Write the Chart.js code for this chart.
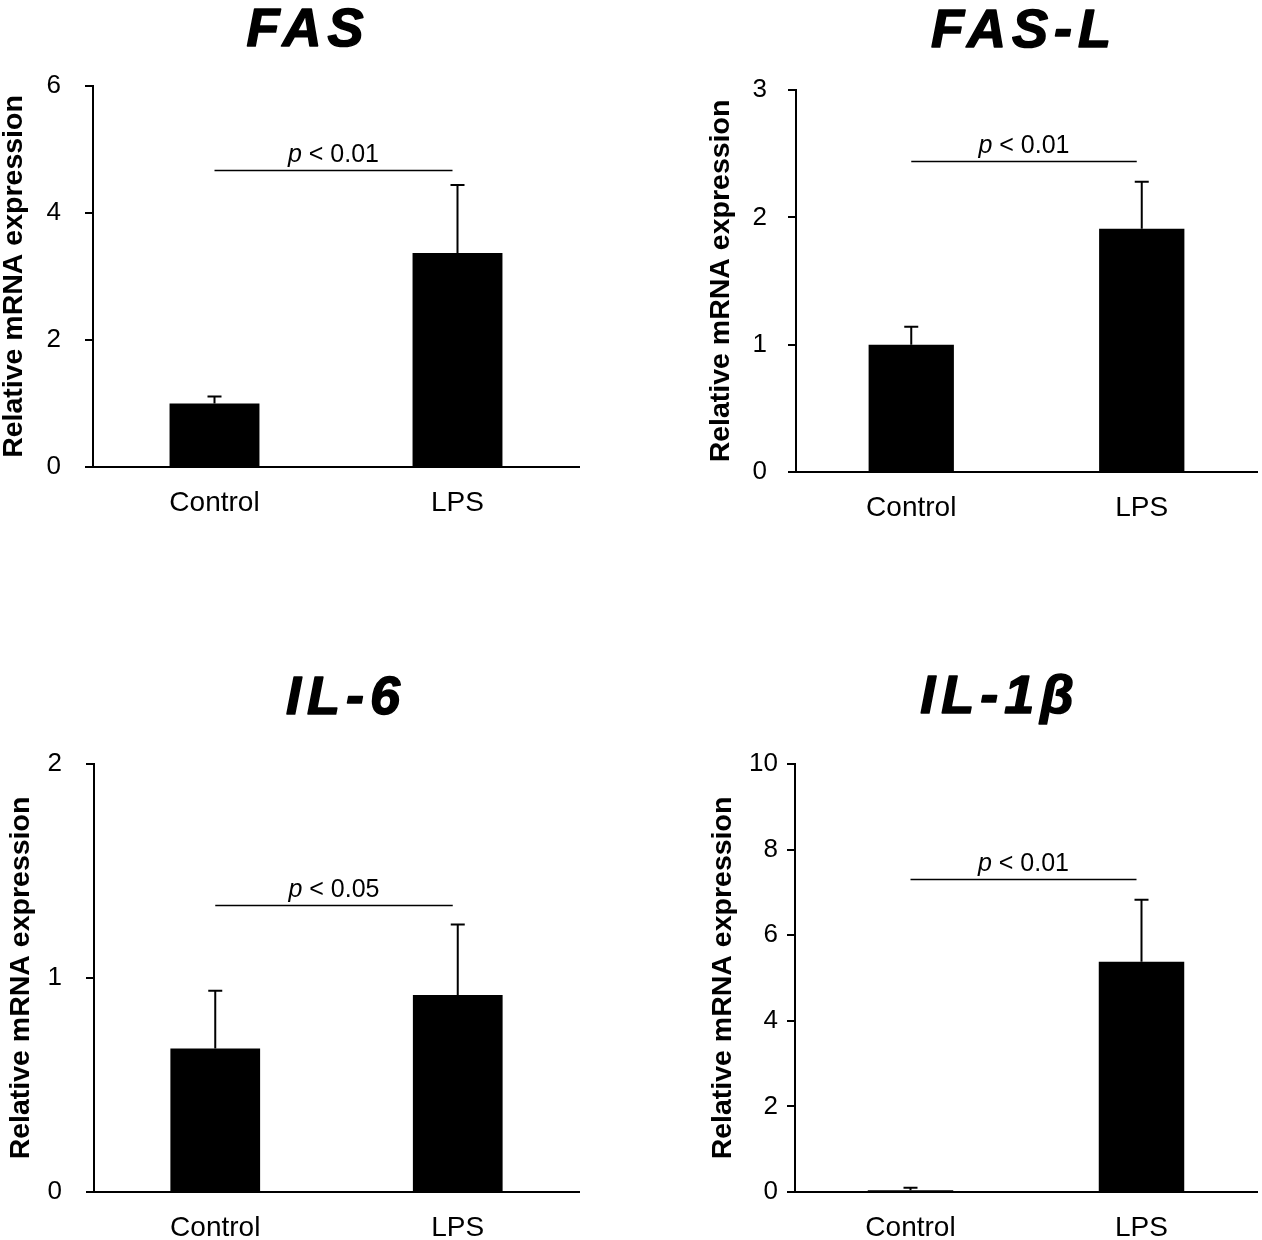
<!DOCTYPE html>
<html>
<head>
<meta charset="utf-8">
<title>Relative mRNA expression</title>
<script src="https://cdn.jsdelivr.net/npm/chart.js@4.4.0/dist/chart.umd.min.js"></script>
<style>
    body { margin: 0; background: #fff; }
    #wrap { position: relative; width: 1262px; height: 1240px; }
    #wrap canvas { position: absolute; }
</style>
</head>
<body>
<div id="wrap">
    <canvas id="fas-chart"></canvas>
    <canvas id="fasl-chart"></canvas>
    <canvas id="il6-chart"></canvas>
    <canvas id="il1b-chart"></canvas>
</div>
<script>
// values
const categories = ['Control', 'LPS'];

const fasMean = [1.0, 3.37];
const fasSd = [0.11, 1.07];
const faslMean = [1.0, 1.91];
const faslSd = [0.14, 0.37];
const il6Mean = [0.67, 0.92];
const il6Sd = [0.27, 0.33];
const il1bMean = [0.04, 5.38];
const il1bSd = [0.06, 1.45];

const geneNames = ['FAS', 'FAS-L', 'IL-6', 'IL-1β'];
const yMax = [6, 3, 2, 10];
const yStep = [2, 1, 1, 2];
const sigLevel = [4.68, 2.44, 1.34, 7.31];
const sigText = ['< 0.01', '< 0.01', '< 0.05', '< 0.01'];

const FONT = '"Liberation Sans", Arial, sans-serif';
Chart.defaults.font.family = FONT;
Chart.defaults.color = '#000';

// layout of the four panels (canvas coords), not data
const CW = 631, CH = 620;
const panels = [
    { id: 'fas-chart',  left: 0,   top: 0,   area: [93, 86, 579, 467],   padLeft: 0,  tickPad: 24, titleX: 305, titleY: 46 },
    { id: 'fasl-chart', left: 631, top: 0,   area: [165, 90, 626, 472],  padLeft: 76, tickPad: 21, titleX: 390, titleY: 47 },
    { id: 'il6-chart',  left: 0,   top: 620, area: [94, 144, 579, 572],  padLeft: 7,  tickPad: 24, titleX: 343, titleY: 94 },
    { id: 'il1b-chart', left: 631, top: 620, area: [164, 144, 626, 572], padLeft: 78, tickPad: 9,  titleX: 366, titleY: 93 }
];

const means = [fasMean, faslMean, il6Mean, il1bMean];
const sds = [fasSd, faslSd, il6Sd, il1bSd];

const errorBarPlugin = {
    id: 'errorBars',
    afterDatasetsDraw(chart, args, opts) {
        const ctx = chart.ctx;
        const meta = chart.getDatasetMeta(0);
        const y = chart.scales.y;
        const values = chart.data.datasets[0].data;

        ctx.save();
        ctx.strokeStyle = '#000';
        ctx.lineWidth = 2;
        meta.data.forEach((bar, i) => {
            const yBase = y.getPixelForValue(values[i]);
            const yTop = y.getPixelForValue(values[i] + opts.sd[i]);
            ctx.beginPath();
            ctx.moveTo(bar.x, yBase);
            ctx.lineTo(bar.x, yTop);
            ctx.moveTo(bar.x - 7, yTop);
            ctx.lineTo(bar.x + 7, yTop);
            ctx.stroke();
        });

        // significance line + p value
        const x0 = meta.data[0].x;
        const x1 = meta.data[1].x - 5;
        const ySig = Math.round(y.getPixelForValue(opts.sigLevel)) + 0.5;
        ctx.lineWidth = 1.5;
        ctx.beginPath();
        ctx.moveTo(x0, ySig);
        ctx.lineTo(x1, ySig);
        ctx.stroke();

        const pFont = 'italic 25px ' + FONT;
        const restFont = '25px ' + FONT;
        const rest = ' ' + opts.sigText;
        ctx.font = pFont;
        const wp = ctx.measureText('p').width;
        ctx.font = restFont;
        const wr = ctx.measureText(rest).width;
        const start = (x0 + x1) / 2 - (wp + wr) / 2;
        ctx.fillStyle = '#000';
        ctx.textBaseline = 'alphabetic';
        ctx.textAlign = 'left';
        ctx.font = pFont;
        ctx.fillText('p', start, ySig - 9);
        ctx.font = restFont;
        ctx.fillText(rest, start + wp, ySig - 9);
        ctx.restore();
    }
};

const geneTitlePlugin = {
    id: 'geneTitle',
    afterDraw(chart, args, opts) {
        const ctx = chart.ctx;
        ctx.save();
        ctx.font = 'italic bold 54px ' + FONT;
        ctx.letterSpacing = '6px';
        ctx.fillStyle = '#000';
        ctx.strokeStyle = '#000';
        ctx.lineWidth = 1.5;
        ctx.lineJoin = 'round';
        ctx.textAlign = 'center';
        ctx.textBaseline = 'alphabetic';
        ctx.fillText(opts.text, opts.x + 3, opts.y);
        ctx.strokeText(opts.text, opts.x + 3, opts.y);
        ctx.restore();
    }
};

function buildChart(p, i) {
    const canvas = document.getElementById(p.id);
    canvas.width = CW;
    canvas.height = CH;
    canvas.style.left = p.left + 'px';
    canvas.style.top = p.top + 'px';

    const [aLeft, aTop, aRight, aBottom] = p.area;

    return new Chart(canvas, {
        type: 'bar',
        data: {
            labels: categories,
            datasets: [{
                data: means[i],
                backgroundColor: '#000',
                borderColor: '#000',
                borderWidth: 0,
                barPercentage: 0.37,
                categoryPercentage: 1
            }]
        },
        options: {
            responsive: false,
            animation: false,
            layout: {
                padding: { left: p.padLeft, top: aTop, right: CW - aRight, bottom: 0 }
            },
            plugins: {
                legend: { display: false },
                tooltip: { enabled: false },
                errorBars: { sd: sds[i], sigLevel: sigLevel[i], sigText: sigText[i] },
                geneTitle: { text: geneNames[i], x: p.titleX, y: p.titleY }
            },
            scales: {
                x: {
                    offset: true,
                    grid: { display: false },
                    border: { display: true, color: '#000', width: 2 },
                    ticks: { font: { size: 28 }, padding: 11, color: '#000' },
                    afterFit: (scale) => { scale.height = CH - aBottom; }
                },
                y: {
                    min: 0,
                    max: yMax[i],
                    ticks: { stepSize: yStep[i], font: { size: 26 }, padding: p.tickPad, color: '#000' },
                    grid: { drawOnChartArea: false, drawTicks: true, tickLength: 8, color: '#000', lineWidth: 2 },
                    border: { display: true, color: '#000', width: 2 },
                    title: {
                        display: true,
                        text: 'Relative mRNA expression',
                        font: { size: 28.5, weight: 'bold', lineHeight: 1 },
                        padding: 0,
                        color: '#000'
                    },
                    afterFit: (scale) => { scale.width = aLeft - p.padLeft; }
                }
            }
        },
        plugins: [errorBarPlugin, geneTitlePlugin]
    });
}

panels.forEach((p, i) => buildChart(p, i));
</script>
</body>
</html>
